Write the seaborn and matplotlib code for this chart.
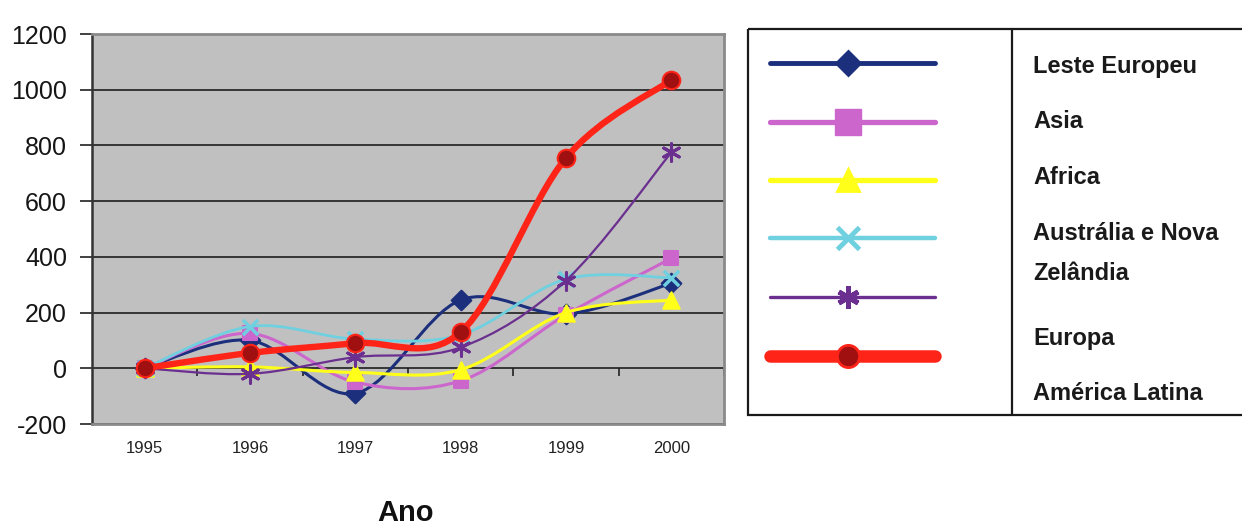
import numpy as np
import matplotlib
matplotlib.use("Agg")
import matplotlib.pyplot as plt
import seaborn as sns
from matplotlib.path import Path
from matplotlib.patches import PathPatch, Rectangle

# ---------------- data ----------------
years = ["1995", "1996", "1997", "1998", "1999", "2000"]
series_names = ["Leste Europeu", "Asia", "Africa", "Austrália e Nova Zelândia",
                "Europa", "América Latina"]
leste_europeu = [0, 100, -90, 245, 195, 305]
asia = [0, 125, -50, -45, 192, 395]
africa = [0, 5, -15, -5, 200, 245]
australia_nz = [0, 150, 105, 120, 320, 325]
europa = [0, -20, 40, 75, 315, 775]
america_latina = [0, 55, 90, 130, 755, 1035]
y_ticks = [-200, 0, 200, 400, 600, 800, 1000, 1200]
legend_text_lines = ["Leste Europeu", "Asia", "Africa", "Austrália e Nova",
                     "Zelândia", "Europa", "América Latina"]

values = [leste_europeu, asia, africa, australia_nz, europa, america_latina]

# ---------------- styles ----------------
colors = ["#1c2f7c", "#cc66cc", "#ffff1a", "#6fd0e0", "#6a2f8f", "#ff2418"]
line_w = [2.2, 2.2, 2.2, 2.0, 1.6, 4.6]
markers = ["D", "s", "^", "x", (6, 2, 0), "o"]
marker_s = [100, 110, 140, 120, 160, 160]
marker_face = ["#1c2f7c", "#cc66cc", "#ffff1a", "#6fd0e0", "#6a2f8f", "#a01010"]
marker_edge = ["#1c2f7c", "#cc66cc", "#ffff1a", "#6fd0e0", "#6a2f8f", "#ff2418"]

sns.set_theme(style="white")
plt.rcParams['font.family'] = ['Liberation Sans', 'DejaVu Sans']

W, H = 1242, 529
fig = plt.figure(figsize=(W / 100, H / 100), dpi=100)
fig.patch.set_facecolor("white")

left, right, top, bottom = 92, 724, 34, 424
ax = fig.add_axes([left / W, 1 - bottom / H, (right - left) / W, (bottom - top) / H])
ax.set_facecolor("#c0c0c0")

pos = np.arange(len(years))


def smooth_path(xs, ys):
    pts = np.column_stack([xs, ys]).astype(float)
    n = len(pts)
    verts = [pts[0]]
    codes = [Path.MOVETO]
    for i in range(n - 1):
        p0 = pts[i - 1] if i > 0 else pts[i]
        p1 = pts[i]
        p2 = pts[i + 1]
        p3 = pts[i + 2] if i + 2 < n else pts[i + 1]
        c1 = p1 + (p2 - p0) / 6.0
        c2 = p2 - (p3 - p1) / 6.0
        verts += [c1, c2, p2]
        codes += [Path.CURVE4] * 3
    return Path(verts, codes)


for k, (name, vals) in enumerate(zip(series_names, values)):
    z = 3 + k
    patch = PathPatch(smooth_path(pos, vals), fill=False, edgecolor=colors[k],
                      lw=line_w[k], capstyle="round", joinstyle="round", zorder=z)
    ax.add_patch(patch)
    if markers[k] == "x":
        sns.scatterplot(x=pos, y=vals, marker="x", s=marker_s[k], color=colors[k],
                        linewidth=2.5, ax=ax, zorder=z + 0.5)
    elif isinstance(markers[k], tuple):
        sns.scatterplot(x=pos, y=vals, marker=markers[k], s=marker_s[k],
                        color=colors[k], edgecolor=colors[k], linewidth=2.2,
                        ax=ax, zorder=z + 0.5)
    else:
        sns.scatterplot(x=pos, y=vals, marker=markers[k], s=marker_s[k],
                        color=marker_face[k], edgecolor=marker_edge[k],
                        linewidth=1.5, ax=ax, zorder=z + 0.5)

ax.set_xlim(-0.5, len(years) - 0.5)
ax.set_ylim(-200, 1200)
ax.set_yticks(y_ticks)
ax.set_yticklabels([str(t) for t in y_ticks], fontsize=18, color="#151515")
ax.set_xticks(pos)
ax.set_xticklabels(years, fontsize=12, color="#222222",
                   family=['Liberation Sans Narrow', 'DejaVu Sans Condensed',
                           'Liberation Sans'])
ax.tick_params(axis="x", length=0, pad=12)
ax.tick_params(axis="y", direction="out", length=9, width=1.3, color="#333333",
               pad=9, left=True)
ax.grid(axis="y", color="#1e1e1e", lw=1.2)
ax.grid(axis="x", visible=False)
ax.set_axisbelow(True)
ax.set_xlabel("")
ax.set_ylabel("")
for s in ["top", "right", "bottom"]:
    ax.spines[s].set_color("#8a8a8a")
    ax.spines[s].set_linewidth(2)
ax.spines["left"].set_color("#333333")
ax.spines["left"].set_linewidth(1.8)

# category-boundary ticks on the zero line
zero_frac = (0 - (-200)) / (1200 - (-200))
secx = ax.secondary_xaxis(zero_frac)
secx.set_xticks(np.arange(len(years)) + 0.5)
secx.set_xticklabels([])
secx.tick_params(direction="out", length=6, width=1.2, color="#222222")
secx.spines["bottom"].set_visible(False)

# ---------------- legend table & axis title ----------------
lax = fig.add_axes([0, 0, 1, 1], zorder=-1)
lax.set_xlim(0, W)
lax.set_ylim(H, 0)
lax.axis("off")

lax.add_patch(Rectangle((748, 29), 520, 386, fill=False, edgecolor="#1a1a1a",
                        lw=1.6, clip_on=False))
lax.plot([1012, 1012], [29, 415], color="#1a1a1a", lw=1.6)

handle_y = [63, 122, 180, 238, 297, 356]
leg_lw = [3.5, 3.8, 3.8, 3.2, 2.4, 9.0]
leg_ms = [12, 19, 16, 16, 16, 16]
for k in range(len(series_names)):
    yk = handle_y[k]
    lax.plot([770, 935], [yk, yk], color=colors[k], lw=leg_lw[k],
             solid_capstyle="round")
    if markers[k] == "x":
        lax.plot([848], [yk], marker="x", ms=leg_ms[k], mew=3.5, color=colors[k])
    elif isinstance(markers[k], tuple):
        lax.plot([848], [yk], marker=markers[k], ms=leg_ms[k], mew=3.5,
                 color=colors[k])
    elif markers[k] == "s":
        lax.plot([848], [yk], marker="s", ms=leg_ms[k], color=colors[k],
                 mec=colors[k])
    else:
        lax.plot([848], [yk], marker=markers[k], ms=leg_ms[k],
                 mfc=marker_face[k], mec=marker_edge[k], mew=2)

text_y = [67, 122, 178, 233, 273, 339, 393]
for t, yy in zip(legend_text_lines, text_y):
    lax.text(1033, yy, t, fontsize=17, fontweight="bold", color="#1a1a1a",
             ha="left", va="center")

lax.text(406, 513, "Ano", fontsize=21, fontweight="bold", color="#111111",
         ha="center", va="center")

fig.savefig("out.png", dpi=100)
